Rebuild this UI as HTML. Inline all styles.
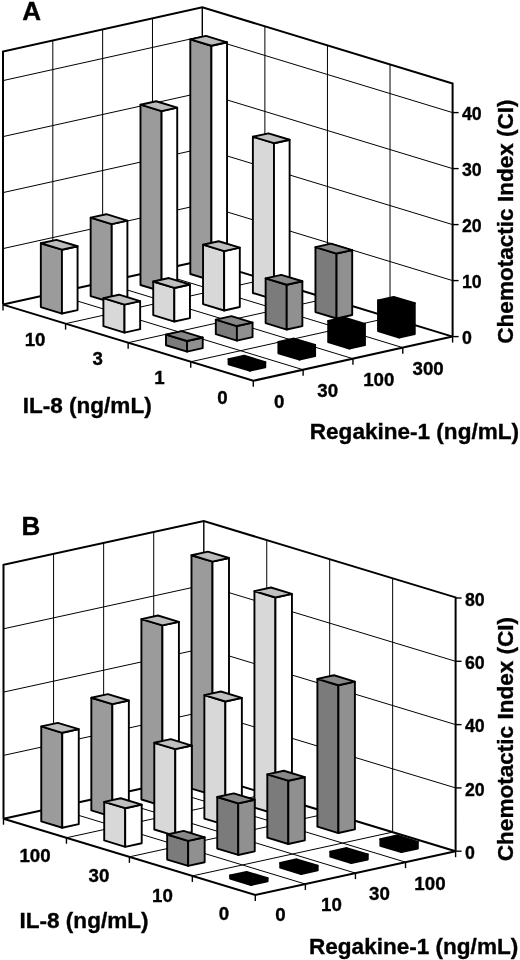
<!DOCTYPE html>
<html><head><meta charset="utf-8"><title>Figure</title>
<style>
html,body{margin:0;padding:0;background:#fff;}
body{width:520px;height:960px;overflow:hidden;font-family:"Liberation Sans",sans-serif;}
svg{display:block;filter:grayscale(1);}
svg text{stroke:#000;stroke-width:0.35px;fill:#000;}
</style></head><body>
<svg width="520" height="960" viewBox="0 0 520 960">
<rect width="520" height="960" fill="#ffffff"/>
<g stroke="#000" stroke-linecap="butt" stroke-linejoin="miter" font-family="'Liberation Sans', sans-serif" font-weight="bold">
<g class="pa">
<line x1="152.48" y1="271.45" x2="152.48" y2="18.33" stroke-width="1.0"/>
<line x1="264.88" y1="279.45" x2="264.88" y2="26.33" stroke-width="1.0"/>
<line x1="152.48" y1="271.45" x2="402.78" y2="347.65" stroke-width="1.0"/>
<line x1="264.88" y1="279.45" x2="65.58" y2="323.65" stroke-width="1.0"/>
<line x1="102.65" y1="282.5" x2="102.65" y2="29.38" stroke-width="1.0"/>
<line x1="327.45" y1="298.5" x2="327.45" y2="45.38" stroke-width="1.0"/>
<line x1="102.65" y1="282.5" x2="352.95" y2="358.7" stroke-width="1.0"/>
<line x1="327.45" y1="298.5" x2="128.15" y2="342.7" stroke-width="1.0"/>
<line x1="52.82" y1="293.55" x2="52.82" y2="40.43" stroke-width="1.0"/>
<line x1="390.03" y1="317.55" x2="390.03" y2="64.43" stroke-width="1.0"/>
<line x1="52.82" y1="293.55" x2="303.12" y2="369.75" stroke-width="1.0"/>
<line x1="390.03" y1="317.55" x2="190.73" y2="361.75" stroke-width="1.0"/>
<line x1="3" y1="248.6" x2="202.3" y2="204.4" stroke-width="1.0"/>
<line x1="202.3" y1="204.4" x2="452.6" y2="280.6" stroke-width="1.0"/>
<line x1="3" y1="192.6" x2="202.3" y2="148.4" stroke-width="1.0"/>
<line x1="202.3" y1="148.4" x2="452.6" y2="224.6" stroke-width="1.0"/>
<line x1="3" y1="136.6" x2="202.3" y2="92.4" stroke-width="1.0"/>
<line x1="202.3" y1="92.4" x2="452.6" y2="168.6" stroke-width="1.0"/>
<line x1="3" y1="80.6" x2="202.3" y2="36.4" stroke-width="1.0"/>
<line x1="202.3" y1="36.4" x2="452.6" y2="112.6" stroke-width="1.0"/>
<line x1="202.3" y1="260.4" x2="202.3" y2="7.28" stroke-width="1.4"/>
<line x1="3" y1="304.6" x2="202.3" y2="260.4" stroke-width="2.0"/>
<line x1="202.3" y1="260.4" x2="452.6" y2="336.6" stroke-width="2.0"/>
<polyline fill="none" stroke-width="2.0" stroke-linejoin="miter" points="3,304.6 3,51.48 202.3,7.28 452.6,83.48 452.6,336.6"/>
<polyline fill="none" stroke-width="2.0" stroke-linejoin="miter" points="3,304.6 253.3,380.8 452.6,336.6"/>
<line x1="3" y1="304.6" x2="3" y2="310.6" stroke-width="1.4"/>
<line x1="65.58" y1="323.65" x2="65.58" y2="329.65" stroke-width="1.4"/>
<line x1="303.12" y1="369.75" x2="303.12" y2="375.75" stroke-width="1.4"/>
<line x1="128.15" y1="342.7" x2="128.15" y2="348.7" stroke-width="1.4"/>
<line x1="352.95" y1="358.7" x2="352.95" y2="364.7" stroke-width="1.4"/>
<line x1="190.73" y1="361.75" x2="190.73" y2="367.75" stroke-width="1.4"/>
<line x1="402.78" y1="347.65" x2="402.78" y2="353.65" stroke-width="1.4"/>
<line x1="253.3" y1="380.8" x2="253.3" y2="386.8" stroke-width="1.4"/>
<line x1="452.6" y1="336.6" x2="452.6" y2="342.6" stroke-width="1.4"/>
<line x1="452.6" y1="336.6" x2="458.6" y2="336.6" stroke-width="1.4"/>
<text transform="translate(462 344.2) scale(0.95 1)" font-size="18.7" text-anchor="start">0</text>
<line x1="452.6" y1="280.6" x2="458.6" y2="280.6" stroke-width="1.4"/>
<text transform="translate(462 288.2) scale(0.95 1)" font-size="18.7" text-anchor="start">10</text>
<line x1="452.6" y1="224.6" x2="458.6" y2="224.6" stroke-width="1.4"/>
<text transform="translate(462 232.2) scale(0.95 1)" font-size="18.7" text-anchor="start">20</text>
<line x1="452.6" y1="168.6" x2="458.6" y2="168.6" stroke-width="1.4"/>
<text transform="translate(462 176.2) scale(0.95 1)" font-size="18.7" text-anchor="start">30</text>
<line x1="452.6" y1="112.6" x2="458.6" y2="112.6" stroke-width="1.4"/>
<text transform="translate(462 120.2) scale(0.95 1)" font-size="18.7" text-anchor="start">40</text>
<polygon points="190.3,273.97 211.4,280.4 211.4,45.76 190.3,39.33" fill="#9b9b9b" stroke-width="1.9" stroke-linejoin="round"/>
<polygon points="211.4,280.4 227.05,276.93 227.05,42.29 211.4,45.76" fill="#ffffff" stroke-width="1.9" stroke-linejoin="round"/>
<polygon points="190.3,39.33 211.4,45.76 227.05,42.29 205.95,35.86" fill="#bcbcbc" stroke-width="1.9" stroke-linejoin="round"/>
<polygon points="140.48,285.02 161.58,291.45 161.58,111.13 140.48,104.7" fill="#9b9b9b" stroke-width="1.9" stroke-linejoin="round"/>
<polygon points="161.58,291.45 177.22,287.98 177.22,107.66 161.58,111.13" fill="#ffffff" stroke-width="1.9" stroke-linejoin="round"/>
<polygon points="140.48,104.7 161.58,111.13 177.22,107.66 156.12,101.23" fill="#bcbcbc" stroke-width="1.9" stroke-linejoin="round"/>
<polygon points="252.88,293.02 273.98,299.45 273.98,143.21 252.88,136.78" fill="#d8d8d8" stroke-width="1.9" stroke-linejoin="round"/>
<polygon points="273.98,299.45 289.62,295.98 289.62,139.74 273.98,143.21" fill="#ffffff" stroke-width="1.9" stroke-linejoin="round"/>
<polygon points="252.88,136.78 273.98,143.21 289.62,139.74 268.52,133.31" fill="#c0c0c0" stroke-width="1.9" stroke-linejoin="round"/>
<polygon points="90.65,296.07 111.75,302.5 111.75,224.1 90.65,217.67" fill="#9b9b9b" stroke-width="1.9" stroke-linejoin="round"/>
<polygon points="111.75,302.5 127.4,299.03 127.4,220.63 111.75,224.1" fill="#ffffff" stroke-width="1.9" stroke-linejoin="round"/>
<polygon points="90.65,217.67 111.75,224.1 127.4,220.63 106.3,214.2" fill="#bcbcbc" stroke-width="1.9" stroke-linejoin="round"/>
<polygon points="203.05,304.07 224.15,310.5 224.15,251.14 203.05,244.71" fill="#d8d8d8" stroke-width="1.9" stroke-linejoin="round"/>
<polygon points="224.15,310.5 239.8,307.03 239.8,247.67 224.15,251.14" fill="#ffffff" stroke-width="1.9" stroke-linejoin="round"/>
<polygon points="203.05,244.71 224.15,251.14 239.8,247.67 218.7,241.24" fill="#c0c0c0" stroke-width="1.9" stroke-linejoin="round"/>
<polygon points="40.83,307.12 61.93,313.55 61.93,249.71 40.83,243.28" fill="#9b9b9b" stroke-width="1.9" stroke-linejoin="round"/>
<polygon points="61.93,313.55 77.57,310.08 77.57,246.24 61.93,249.71" fill="#ffffff" stroke-width="1.9" stroke-linejoin="round"/>
<polygon points="40.83,243.28 61.93,249.71 77.57,246.24 56.47,239.81" fill="#bcbcbc" stroke-width="1.9" stroke-linejoin="round"/>
<polygon points="315.45,312.07 336.55,318.5 336.55,253.54 315.45,247.11" fill="#7b7b7b" stroke-width="1.9" stroke-linejoin="round"/>
<polygon points="336.55,318.5 352.2,315.03 352.2,250.07 336.55,253.54" fill="#909090" stroke-width="1.9" stroke-linejoin="round"/>
<polygon points="315.45,247.11 336.55,253.54 352.2,250.07 331.1,243.64" fill="#888888" stroke-width="1.9" stroke-linejoin="round"/>
<polygon points="153.23,315.12 174.33,321.55 174.33,287.95 153.23,281.52" fill="#d8d8d8" stroke-width="1.9" stroke-linejoin="round"/>
<polygon points="174.33,321.55 189.97,318.08 189.97,284.48 174.33,287.95" fill="#ffffff" stroke-width="1.9" stroke-linejoin="round"/>
<polygon points="153.23,281.52 174.33,287.95 189.97,284.48 168.87,278.05" fill="#c0c0c0" stroke-width="1.9" stroke-linejoin="round"/>
<polygon points="265.63,323.12 286.73,329.55 286.73,284.75 265.63,278.32" fill="#7b7b7b" stroke-width="1.9" stroke-linejoin="round"/>
<polygon points="286.73,329.55 302.37,326.08 302.37,281.28 286.73,284.75" fill="#909090" stroke-width="1.9" stroke-linejoin="round"/>
<polygon points="265.63,278.32 286.73,284.75 302.37,281.28 281.27,274.85" fill="#888888" stroke-width="1.9" stroke-linejoin="round"/>
<polygon points="103.4,326.17 124.5,332.6 124.5,304.6 103.4,298.17" fill="#d8d8d8" stroke-width="1.9" stroke-linejoin="round"/>
<polygon points="124.5,332.6 140.15,329.13 140.15,301.13 124.5,304.6" fill="#ffffff" stroke-width="1.9" stroke-linejoin="round"/>
<polygon points="103.4,298.17 124.5,304.6 140.15,301.13 119.05,294.7" fill="#c0c0c0" stroke-width="1.9" stroke-linejoin="round"/>
<polygon points="378.03,331.12 399.13,337.55 399.13,306.75 378.03,300.32" fill="#000000" stroke-width="1.9" stroke-linejoin="round"/>
<polygon points="399.13,337.55 414.77,334.08 414.77,303.28 399.13,306.75" fill="#000000" stroke-width="1.9" stroke-linejoin="round"/>
<polygon points="378.03,300.32 399.13,306.75 414.77,303.28 393.67,296.85" fill="#000000" stroke-width="1.9" stroke-linejoin="round"/>
<polygon points="215.8,334.17 236.9,340.6 236.9,326.04 215.8,319.61" fill="#7b7b7b" stroke-width="1.9" stroke-linejoin="round"/>
<polygon points="236.9,340.6 252.55,337.13 252.55,322.57 236.9,326.04" fill="#909090" stroke-width="1.9" stroke-linejoin="round"/>
<polygon points="215.8,319.61 236.9,326.04 252.55,322.57 231.45,316.14" fill="#888888" stroke-width="1.9" stroke-linejoin="round"/>
<polygon points="328.2,342.17 349.3,348.6 349.3,327.32 328.2,320.89" fill="#000000" stroke-width="1.9" stroke-linejoin="round"/>
<polygon points="349.3,348.6 364.95,345.13 364.95,323.85 349.3,327.32" fill="#000000" stroke-width="1.9" stroke-linejoin="round"/>
<polygon points="328.2,320.89 349.3,327.32 364.95,323.85 343.85,317.42" fill="#000000" stroke-width="1.9" stroke-linejoin="round"/>
<polygon points="165.98,345.22 187.08,351.65 187.08,341.01 165.98,334.58" fill="#7b7b7b" stroke-width="1.9" stroke-linejoin="round"/>
<polygon points="187.08,351.65 202.72,348.18 202.72,337.54 187.08,341.01" fill="#909090" stroke-width="1.9" stroke-linejoin="round"/>
<polygon points="165.98,334.58 187.08,341.01 202.72,337.54 181.62,331.11" fill="#888888" stroke-width="1.9" stroke-linejoin="round"/>
<polygon points="278.38,353.22 299.48,359.65 299.48,348.45 278.38,342.02" fill="#000000" stroke-width="1.9" stroke-linejoin="round"/>
<polygon points="299.48,359.65 315.12,356.18 315.12,344.98 299.48,348.45" fill="#000000" stroke-width="1.9" stroke-linejoin="round"/>
<polygon points="278.38,342.02 299.48,348.45 315.12,344.98 294.02,338.55" fill="#000000" stroke-width="1.9" stroke-linejoin="round"/>
<polygon points="228.55,364.27 249.65,370.7 249.65,365.66 228.55,359.23" fill="#000000" stroke-width="1.9" stroke-linejoin="round"/>
<polygon points="249.65,370.7 265.3,367.23 265.3,362.19 249.65,365.66" fill="#000000" stroke-width="1.9" stroke-linejoin="round"/>
<polygon points="228.55,359.23 249.65,365.66 265.3,362.19 244.2,355.76" fill="#000000" stroke-width="1.9" stroke-linejoin="round"/>
<text transform="translate(35.09 346.02) scale(1.0 1)" font-size="18.7" text-anchor="middle">10</text>
<text transform="translate(97.66 364.87) scale(1.0 1)" font-size="18.7" text-anchor="middle">3</text>
<text transform="translate(159.44 384.42) scale(1.0 1)" font-size="18.7" text-anchor="middle">1</text>
<text transform="translate(222.51 404.37) scale(1.0 1)" font-size="18.7" text-anchor="middle">0</text>
<text transform="translate(279.21 408.37) scale(1.0 1)" font-size="18.7" text-anchor="middle">0</text>
<text transform="translate(327.64 396.92) scale(1.0 1)" font-size="18.7" text-anchor="middle">30</text>
<text transform="translate(378.76 385.87) scale(1.0 1)" font-size="18.7" text-anchor="middle">100</text>
<text transform="translate(428.09 374.62) scale(1.0 1)" font-size="18.7" text-anchor="middle">300</text>
<text x="22.7" y="412.5" font-size="22.55" text-anchor="start">IL-8 (ng/mL)</text>
<text x="309.8" y="438.5" font-size="22.55" text-anchor="start">Regakine-1 (ng/mL)</text>
<text transform="translate(512.8 343.7) rotate(-90)" font-size="22.55" text-anchor="start">Chemotactic Index (CI)</text>
<text x="22.3" y="20" font-size="26" text-anchor="start">A</text>
</g>
<g class="pb">
<line x1="153.73" y1="785.85" x2="153.73" y2="532.02" stroke-width="1.0"/>
<line x1="266.75" y1="793.98" x2="266.75" y2="540.14" stroke-width="1.0"/>
<line x1="153.73" y1="785.85" x2="405.53" y2="862.15" stroke-width="1.0"/>
<line x1="266.75" y1="793.98" x2="66.45" y2="837.77" stroke-width="1.0"/>
<line x1="103.65" y1="796.8" x2="103.65" y2="542.97" stroke-width="1.0"/>
<line x1="329.7" y1="813.05" x2="329.7" y2="559.22" stroke-width="1.0"/>
<line x1="103.65" y1="796.8" x2="355.45" y2="873.1" stroke-width="1.0"/>
<line x1="329.7" y1="813.05" x2="129.4" y2="856.85" stroke-width="1.0"/>
<line x1="53.57" y1="807.75" x2="53.57" y2="553.92" stroke-width="1.0"/>
<line x1="392.65" y1="832.12" x2="392.65" y2="578.29" stroke-width="1.0"/>
<line x1="53.57" y1="807.75" x2="305.38" y2="884.05" stroke-width="1.0"/>
<line x1="392.65" y1="832.12" x2="192.35" y2="875.92" stroke-width="1.0"/>
<line x1="3.5" y1="755.4" x2="203.8" y2="711.6" stroke-width="1.0"/>
<line x1="203.8" y1="711.6" x2="455.6" y2="787.9" stroke-width="1.0"/>
<line x1="3.5" y1="692.1" x2="203.8" y2="648.3" stroke-width="1.0"/>
<line x1="203.8" y1="648.3" x2="455.6" y2="724.6" stroke-width="1.0"/>
<line x1="3.5" y1="628.8" x2="203.8" y2="585" stroke-width="1.0"/>
<line x1="203.8" y1="585" x2="455.6" y2="661.3" stroke-width="1.0"/>
<line x1="203.8" y1="774.9" x2="203.8" y2="521.07" stroke-width="1.4"/>
<line x1="3.5" y1="818.7" x2="203.8" y2="774.9" stroke-width="2.0"/>
<line x1="203.8" y1="774.9" x2="455.6" y2="851.2" stroke-width="2.0"/>
<polyline fill="none" stroke-width="2.0" stroke-linejoin="miter" points="3.5,818.7 3.5,564.87 203.8,521.07 455.6,597.37 455.6,851.2"/>
<polyline fill="none" stroke-width="2.0" stroke-linejoin="miter" points="3.5,818.7 255.3,895 455.6,851.2"/>
<line x1="3.5" y1="818.7" x2="3.5" y2="824.7" stroke-width="1.4"/>
<line x1="66.45" y1="837.77" x2="66.45" y2="843.77" stroke-width="1.4"/>
<line x1="305.38" y1="884.05" x2="305.38" y2="890.05" stroke-width="1.4"/>
<line x1="129.4" y1="856.85" x2="129.4" y2="862.85" stroke-width="1.4"/>
<line x1="355.45" y1="873.1" x2="355.45" y2="879.1" stroke-width="1.4"/>
<line x1="192.35" y1="875.92" x2="192.35" y2="881.92" stroke-width="1.4"/>
<line x1="405.53" y1="862.15" x2="405.53" y2="868.15" stroke-width="1.4"/>
<line x1="255.3" y1="895" x2="255.3" y2="901" stroke-width="1.4"/>
<line x1="455.6" y1="851.2" x2="455.6" y2="857.2" stroke-width="1.4"/>
<line x1="455.6" y1="851.2" x2="461.6" y2="851.2" stroke-width="1.4"/>
<text transform="translate(465 858.8) scale(0.95 1)" font-size="18.7" text-anchor="start">0</text>
<line x1="455.6" y1="787.9" x2="461.6" y2="787.9" stroke-width="1.4"/>
<text transform="translate(465 795.5) scale(0.95 1)" font-size="18.7" text-anchor="start">20</text>
<line x1="455.6" y1="724.6" x2="461.6" y2="724.6" stroke-width="1.4"/>
<text transform="translate(465 732.2) scale(0.95 1)" font-size="18.7" text-anchor="start">40</text>
<line x1="455.6" y1="661.3" x2="461.6" y2="661.3" stroke-width="1.4"/>
<text transform="translate(465 668.9) scale(0.95 1)" font-size="18.7" text-anchor="start">60</text>
<line x1="455.6" y1="598" x2="461.6" y2="598" stroke-width="1.4"/>
<text transform="translate(465 605.6) scale(0.95 1)" font-size="18.7" text-anchor="start">80</text>
<polygon points="191.49,788.54 212.49,794.9 212.49,561.64 191.49,555.27" fill="#9b9b9b" stroke-width="1.9" stroke-linejoin="round"/>
<polygon points="212.49,794.9 228.99,791.29 228.99,558.03 212.49,561.64" fill="#ffffff" stroke-width="1.9" stroke-linejoin="round"/>
<polygon points="191.49,555.27 212.49,561.64 228.99,558.03 207.99,551.67" fill="#bcbcbc" stroke-width="1.9" stroke-linejoin="round"/>
<polygon points="141.41,799.49 162.41,805.85 162.41,625.44 141.41,619.08" fill="#9b9b9b" stroke-width="1.9" stroke-linejoin="round"/>
<polygon points="162.41,805.85 178.91,802.24 178.91,621.83 162.41,625.44" fill="#ffffff" stroke-width="1.9" stroke-linejoin="round"/>
<polygon points="141.41,619.08 162.41,625.44 178.91,621.83 157.91,615.47" fill="#bcbcbc" stroke-width="1.9" stroke-linejoin="round"/>
<polygon points="254.44,807.61 275.44,813.97 275.44,597.49 254.44,591.12" fill="#d8d8d8" stroke-width="1.9" stroke-linejoin="round"/>
<polygon points="275.44,813.97 291.94,810.36 291.94,593.88 275.44,597.49" fill="#ffffff" stroke-width="1.9" stroke-linejoin="round"/>
<polygon points="254.44,591.12 275.44,597.49 291.94,593.88 270.94,587.52" fill="#c0c0c0" stroke-width="1.9" stroke-linejoin="round"/>
<polygon points="91.34,810.44 112.34,816.8 112.34,704.12 91.34,697.76" fill="#9b9b9b" stroke-width="1.9" stroke-linejoin="round"/>
<polygon points="112.34,816.8 128.84,813.19 128.84,700.52 112.34,704.12" fill="#ffffff" stroke-width="1.9" stroke-linejoin="round"/>
<polygon points="91.34,697.76 112.34,704.12 128.84,700.52 107.84,694.15" fill="#bcbcbc" stroke-width="1.9" stroke-linejoin="round"/>
<polygon points="204.36,818.56 225.36,824.92 225.36,701.49 204.36,695.13" fill="#d8d8d8" stroke-width="1.9" stroke-linejoin="round"/>
<polygon points="225.36,824.92 241.86,821.31 241.86,697.88 225.36,701.49" fill="#ffffff" stroke-width="1.9" stroke-linejoin="round"/>
<polygon points="204.36,695.13 225.36,701.49 241.86,697.88 220.86,691.52" fill="#c0c0c0" stroke-width="1.9" stroke-linejoin="round"/>
<polygon points="41.26,821.39 62.26,827.75 62.26,732.8 41.26,726.44" fill="#9b9b9b" stroke-width="1.9" stroke-linejoin="round"/>
<polygon points="62.26,827.75 78.76,824.14 78.76,729.19 62.26,732.8" fill="#ffffff" stroke-width="1.9" stroke-linejoin="round"/>
<polygon points="41.26,726.44 62.26,732.8 78.76,729.19 57.76,722.83" fill="#bcbcbc" stroke-width="1.9" stroke-linejoin="round"/>
<polygon points="317.39,826.69 338.39,833.05 338.39,685.24 317.39,678.88" fill="#7b7b7b" stroke-width="1.9" stroke-linejoin="round"/>
<polygon points="338.39,833.05 354.89,829.44 354.89,681.63 338.39,685.24" fill="#909090" stroke-width="1.9" stroke-linejoin="round"/>
<polygon points="317.39,678.88 338.39,685.24 354.89,681.63 333.89,675.27" fill="#888888" stroke-width="1.9" stroke-linejoin="round"/>
<polygon points="154.29,829.51 175.29,835.87 175.29,749.15 154.29,742.79" fill="#d8d8d8" stroke-width="1.9" stroke-linejoin="round"/>
<polygon points="175.29,835.87 191.79,832.26 191.79,745.54 175.29,749.15" fill="#ffffff" stroke-width="1.9" stroke-linejoin="round"/>
<polygon points="154.29,742.79 175.29,749.15 191.79,745.54 170.79,739.18" fill="#c0c0c0" stroke-width="1.9" stroke-linejoin="round"/>
<polygon points="267.31,837.64 288.31,844 288.31,780.7 267.31,774.34" fill="#7b7b7b" stroke-width="1.9" stroke-linejoin="round"/>
<polygon points="288.31,844 304.81,840.39 304.81,777.09 288.31,780.7" fill="#909090" stroke-width="1.9" stroke-linejoin="round"/>
<polygon points="267.31,774.34 288.31,780.7 304.81,777.09 283.81,770.73" fill="#888888" stroke-width="1.9" stroke-linejoin="round"/>
<polygon points="104.21,840.46 125.21,846.82 125.21,808.21 104.21,801.85" fill="#d8d8d8" stroke-width="1.9" stroke-linejoin="round"/>
<polygon points="125.21,846.82 141.71,843.21 141.71,804.6 125.21,808.21" fill="#ffffff" stroke-width="1.9" stroke-linejoin="round"/>
<polygon points="104.21,801.85 125.21,808.21 141.71,804.6 120.71,798.24" fill="#c0c0c0" stroke-width="1.9" stroke-linejoin="round"/>
<polygon points="380.34,845.76 401.34,852.12 401.34,845.48 380.34,839.11" fill="#000000" stroke-width="1.9" stroke-linejoin="round"/>
<polygon points="401.34,852.12 417.84,848.51 417.84,841.87 401.34,845.48" fill="#000000" stroke-width="1.9" stroke-linejoin="round"/>
<polygon points="380.34,839.11 401.34,845.48 417.84,841.87 396.84,835.5" fill="#000000" stroke-width="1.9" stroke-linejoin="round"/>
<polygon points="217.24,848.59 238.24,854.95 238.24,803.36 217.24,797" fill="#7b7b7b" stroke-width="1.9" stroke-linejoin="round"/>
<polygon points="238.24,854.95 254.74,851.34 254.74,799.75 238.24,803.36" fill="#909090" stroke-width="1.9" stroke-linejoin="round"/>
<polygon points="217.24,797 238.24,803.36 254.74,799.75 233.74,793.39" fill="#888888" stroke-width="1.9" stroke-linejoin="round"/>
<polygon points="330.26,856.71 351.26,863.07 351.26,858.01 330.26,851.65" fill="#000000" stroke-width="1.9" stroke-linejoin="round"/>
<polygon points="351.26,863.07 367.76,859.46 367.76,854.4 351.26,858.01" fill="#000000" stroke-width="1.9" stroke-linejoin="round"/>
<polygon points="330.26,851.65 351.26,858.01 367.76,854.4 346.76,848.04" fill="#000000" stroke-width="1.9" stroke-linejoin="round"/>
<polygon points="167.16,859.54 188.16,865.9 188.16,840.9 167.16,834.53" fill="#7b7b7b" stroke-width="1.9" stroke-linejoin="round"/>
<polygon points="188.16,865.9 204.66,862.29 204.66,837.29 188.16,840.9" fill="#909090" stroke-width="1.9" stroke-linejoin="round"/>
<polygon points="167.16,834.53 188.16,840.9 204.66,837.29 183.66,830.92" fill="#888888" stroke-width="1.9" stroke-linejoin="round"/>
<polygon points="280.19,867.66 301.19,874.02 301.19,869.28 280.19,862.91" fill="#000000" stroke-width="1.9" stroke-linejoin="round"/>
<polygon points="301.19,874.02 317.69,870.41 317.69,865.67 301.19,869.28" fill="#000000" stroke-width="1.9" stroke-linejoin="round"/>
<polygon points="280.19,862.91 301.19,869.28 317.69,865.67 296.69,859.3" fill="#000000" stroke-width="1.9" stroke-linejoin="round"/>
<polygon points="230.11,878.61 251.11,884.97 251.11,881.81 230.11,875.45" fill="#000000" stroke-width="1.9" stroke-linejoin="round"/>
<polygon points="251.11,884.97 267.61,881.36 267.61,878.2 251.11,881.81" fill="#000000" stroke-width="1.9" stroke-linejoin="round"/>
<polygon points="230.11,875.45 251.11,881.81 267.61,878.2 246.61,871.84" fill="#000000" stroke-width="1.9" stroke-linejoin="round"/>
<text transform="translate(34.98 862.14) scale(1.0 1)" font-size="18.7" text-anchor="middle">100</text>
<text transform="translate(98.93 881.91) scale(1.0 1)" font-size="18.7" text-anchor="middle">30</text>
<text transform="translate(162.38 901.89) scale(1.0 1)" font-size="18.7" text-anchor="middle">10</text>
<text transform="translate(223.83 919.86) scale(1.0 1)" font-size="18.7" text-anchor="middle">0</text>
<text transform="translate(280.34 921.12) scale(1.0 1)" font-size="18.7" text-anchor="middle">0</text>
<text transform="translate(331.41 911.07) scale(1.0 1)" font-size="18.7" text-anchor="middle">10</text>
<text transform="translate(379.49 900.12) scale(1.0 1)" font-size="18.7" text-anchor="middle">30</text>
<text transform="translate(429.96 889.77) scale(1.0 1)" font-size="18.7" text-anchor="middle">100</text>
<text x="19.5" y="927.5" font-size="22.55" text-anchor="start">IL-8 (ng/mL)</text>
<text x="309" y="954" font-size="22.55" text-anchor="start">Regakine-1 (ng/mL)</text>
<text transform="translate(512.8 861.2) rotate(-90)" font-size="22.55" text-anchor="start">Chemotactic Index (CI)</text>
<text x="21.5" y="535" font-size="26" text-anchor="start">B</text>
</g>
</g></svg>
</body></html>
